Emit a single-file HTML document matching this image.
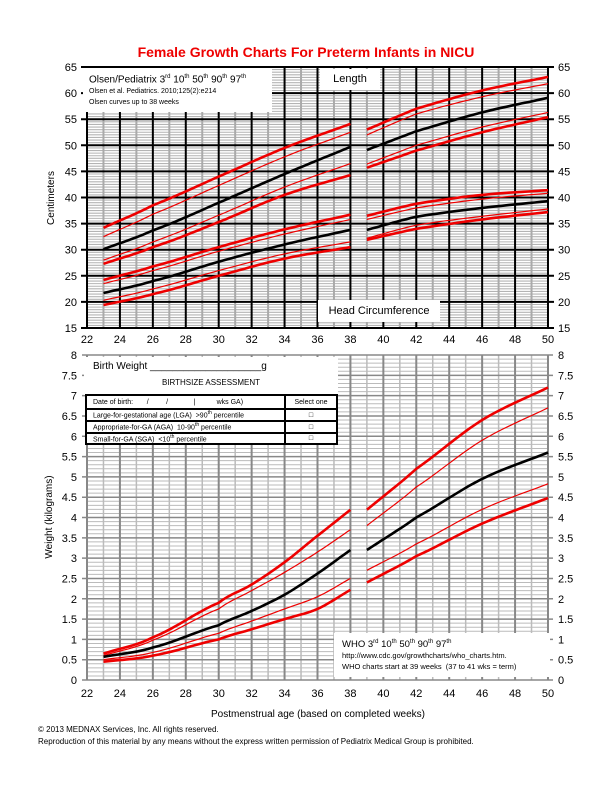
<!DOCTYPE html><html><head><meta charset="utf-8"><style>
body{margin:0;background:#fff;font-family:"Liberation Sans",sans-serif}
#c{position:relative;width:612px;height:792px;overflow:hidden}
.box{position:absolute;background:#fff;font-family:"Liberation Sans",sans-serif;color:#000}
</style></head><body><div id="c"><svg id="s" width="612" height="792" xmlns="http://www.w3.org/2000/svg" style="position:absolute;left:0;top:0"></svg>
<div class="box" style="left:83px;top:68px;width:189px;height:44px;font-size:10px;line-height:12px;padding:3px 6px;box-sizing:border-box">Olsen/Pediatrix 3<sup style="font-size:6px">rd</sup> 10<sup style="font-size:6px">th</sup> 50<sup style="font-size:6px">th</sup> 90<sup style="font-size:6px">th</sup> 97<sup style="font-size:6px">th</sup><div style="font-size:7px;line-height:11px">Olsen et al. Pediatrics. 2010;125(2):e214<br>Olsen curves up to 38 weeks</div></div>
<div class="box" style="left:320px;top:69px;width:60px;height:21px;font-size:11px;line-height:21px;text-align:center">Length</div>
<div class="box" style="left:318px;top:300px;width:122px;height:22px;font-size:11px;line-height:22px;text-align:center">Head Circumference</div>
<div class="box" style="left:84px;top:357px;width:254px;height:38px;font-size:10px"><div style="padding:4px 9px">Birth Weight ____________________g</div><div style="text-align:center;font-size:8px;margin-top:2px">BIRTHSIZE ASSESSMENT</div></div>
<table style="position:absolute;left:85px;top:394px;width:253px;border-collapse:collapse;font-size:7px;background:#fff" cellpadding="0">
<tr style="height:14px"><td style="border:2px solid #000;padding-left:6px">Date of birth: &nbsp; &nbsp; &nbsp; / &nbsp; &nbsp; &nbsp; &nbsp; / &nbsp; &nbsp; &nbsp; &nbsp; &nbsp; &nbsp; | &nbsp; &nbsp; &nbsp; &nbsp; &nbsp; wks GA)</td><td style="border:2px solid #000;width:50px;text-align:center">Select one</td></tr>
<tr style="height:12px"><td style="border:2px solid #000;padding-left:6px">Large-for-gestational age (LGA) &nbsp;&gt;90<sup style="font-size:5px">th</sup> percentile</td><td style="border:2px solid #000;text-align:center">□</td></tr>
<tr style="height:12px"><td style="border:2px solid #000;padding-left:6px">Appropriate-for-GA (AGA) &nbsp;10-90<sup style="font-size:5px">th</sup> percentile</td><td style="border:2px solid #000;text-align:center">□</td></tr>
<tr style="height:11px"><td style="border:2px solid #000;padding-left:6px">Small-for-GA (SGA) &nbsp;&lt;10<sup style="font-size:5px">th</sup> percentile</td><td style="border:2px solid #000;text-align:center">□</td></tr></table>
<div class="box" style="left:334px;top:633px;width:216px;height:44px;font-size:7.5px;line-height:11px;padding:4px 8px;box-sizing:border-box"><span style="font-size:9.5px">WHO 3<sup style="font-size:6px">rd</sup> 10<sup style="font-size:6px">th</sup> 50<sup style="font-size:6px">th</sup> 90<sup style="font-size:6px">th</sup> 97<sup style="font-size:6px">th</sup></span><br>http://www.cdc.gov/growthcharts/who_charts.htm.<br>WHO charts start at 39 weeks &nbsp;(37 to 41 wks = term)</div>
</div>
<script>
const s=document.getElementById('s');let h='';
const X=w=>87+(w-22)*16.464;
const T1=67,B1=328,T2=355,B2=680;
const Y1=v=>B1-(v-15)*(B1-T1)/50, Y2=v=>B2-v*(B2-T2)/8;
h+=`<text x="306" y="57" text-anchor="middle" font-size="14" font-weight="bold" fill="#e00">Female Growth Charts For Preterm Infants in NICU</text>`;
for(let v=15;v<=65;v+=0.5){if(v%5)h+=`<line x1="${X(22)}" x2="${X(50)}" y1="${Y1(v)}" y2="${Y1(v)}" stroke="#b4b4b4" stroke-width="1.1"/>`}
for(let w=23;w<50;w+=2)h+=`<line x1="${X(w)}" x2="${X(w)}" y1="${T1}" y2="${B1}" stroke="#aaa" stroke-width="2"/>`;
for(let w=22;w<=50;w+=2)h+=`<line x1="${X(w)}" x2="${X(w)}" y1="${T1}" y2="${B1}" stroke="#000" stroke-width="2"/>`;
for(let v=15;v<=65;v+=5){h+=`<line x1="${X(22)-6}" x2="${X(50)+6}" y1="${Y1(v)}" y2="${Y1(v)}" stroke="#000" stroke-width="2"/>`;
h+=`<text x="${X(22)-10}" y="${Y1(v)+4}" text-anchor="end" font-size="11">${v}</text><text x="${X(50)+10}" y="${Y1(v)+4}" font-size="11">${v}</text>`}
for(let w=22;w<=50;w+=2)h+=`<text x="${X(w)}" y="${B1+15}" text-anchor="middle" font-size="11">${w}</text>`;
for(let i=0;i<=80;i++){const v=i/10;if(i%5)h+=`<line x1="${X(22)}" x2="${X(50)}" y1="${Y2(v)}" y2="${Y2(v)}" stroke="#bbb" stroke-width="1"/>`}
for(let w=23;w<50;w+=2)h+=`<line x1="${X(w)}" x2="${X(w)}" y1="${T2}" y2="${B2}" stroke="#bbb" stroke-width="1.5"/>`;
for(let w=22;w<=50;w+=2)h+=`<line x1="${X(w)}" x2="${X(w)}" y1="${T2}" y2="${B2}" stroke="#888" stroke-width="2"/>`;
for(let i=0;i<=16;i++){const v=i/2;h+=`<line x1="${X(22)-5}" x2="${X(50)+5}" y1="${Y2(v)}" y2="${Y2(v)}" stroke="#888" stroke-width="1.5"/>`;
h+=`<text x="${X(22)-10}" y="${Y2(v)+4}" text-anchor="end" font-size="11">${v}</text><text x="${X(50)+10}" y="${Y2(v)+4}" font-size="11">${v}</text>`}
for(let w=22;w<=50;w+=2)h+=`<text x="${X(w)}" y="${B2+17}" text-anchor="middle" font-size="11">${w}</text>`;
h+=`<text transform="translate(54,198) rotate(-90)" text-anchor="middle" font-size="10">Centimeters</text>`;
h+=`<text transform="translate(52,517) rotate(-90)" text-anchor="middle" font-size="10">Weight (kilograms)</text>`;
h+=`<text x="318" y="717" text-anchor="middle" font-size="10">Postmenstrual age (based on completed weeks)</text>`;
h+=`<text x="38" y="732" font-size="8">© 2013 MEDNAX Services, Inc. All rights reserved.</text><text x="38" y="744" font-size="8">Reproduction of this material by any means without the express written permission of Pediatrix Medical Group is prohibited.</text>`;
function curve(ws,vs,Y,col,sw){let pts=[];const n=ws.length;
for(let i=0;i<n-1;i++){const p0=i?vs[i-1]:2*vs[0]-vs[1],p1=vs[i],p2=vs[i+1],p3=i+2<n?vs[i+2]:2*vs[n-1]-vs[n-2];
for(let k=0;k<10;k++){const t=k/10,v=0.5*(2*p1+(-p0+p2)*t+(2*p0-5*p1+4*p2-p3)*t*t+(-p0+3*p1-3*p2+p3)*t*t*t);pts.push([X(ws[i]+(ws[i+1]-ws[i])*t),Y(v)])}}
pts.push([X(ws[n-1]),Y(vs[n-1])]);
h+=`<polyline fill="none" stroke="${col}" stroke-width="${sw}" stroke-linejoin="round" points="${pts.map(p=>p[0].toFixed(1)+','+p[1].toFixed(1)).join(' ')}"/>`}
const O=[23,26,30,34,38],W=[39,42,46,50];
const st=[['#e00',2.6],['#e00',1.2],['#000',2.6],['#e00',1.2],['#e00',2.6]];
const L=[[34.2,38.5,44,49.5,54.1],[32.5,36.8,42.3,47.8,52.5],[30.1,33.7,39,44.5,49.7],[28,31.5,36.6,42,46.5],[27.3,30.5,35.3,40.5,44.3]];
const LW=[[53,57,60.5,63.1],[52,56,59.3,61.8],[49.1,52.7,56.3,59.1],[46.4,50,53.5,56.3],[45.7,49,52.5,55.4]];
const H=[[24.2,26.8,30.5,33.9,36.7],[23.5,26,29.7,33,35.8],[21.7,24,27.7,31,33.8],[20.3,22.5,26,29.2,31.5],[19.4,21.5,25,28.3,30.5]];
const HW=[[36.5,38.8,40.5,41.4],[35.8,38,39.7,40.8],[33.8,36.3,38,39.3],[32.2,34.7,36.4,37.8],[31.9,34,35.8,37.2]];
const Ow=[23,26,30,32,34,36,38];
const Wt=[[0.65,1.05,1.9,2.35,2.9,3.55,4.19],[0.6,0.98,1.75,2.2,2.65,3.15,3.7],[0.57,0.8,1.35,1.7,2.1,2.62,3.2],[0.5,0.68,1.15,1.45,1.75,2.05,2.5],[0.45,0.6,1.0,1.25,1.5,1.75,2.22]];
const WW=[[4.19,5.2,6.4,7.2],[3.8,4.75,5.9,6.7],[3.2,4.0,4.95,5.6],[2.7,3.35,4.2,4.83],[2.4,3.05,3.85,4.48]];
for(let i=0;i<5;i++){curve(O,L[i],Y1,...st[i]);curve(W,LW[i],Y1,...st[i]);curve(O,H[i],Y1,...st[i]);curve(W,HW[i],Y1,...st[i]);curve(Ow,Wt[i],Y2,...st[i]);curve(W,WW[i],Y2,...st[i]);}
s.innerHTML=h;
</script></body></html>
